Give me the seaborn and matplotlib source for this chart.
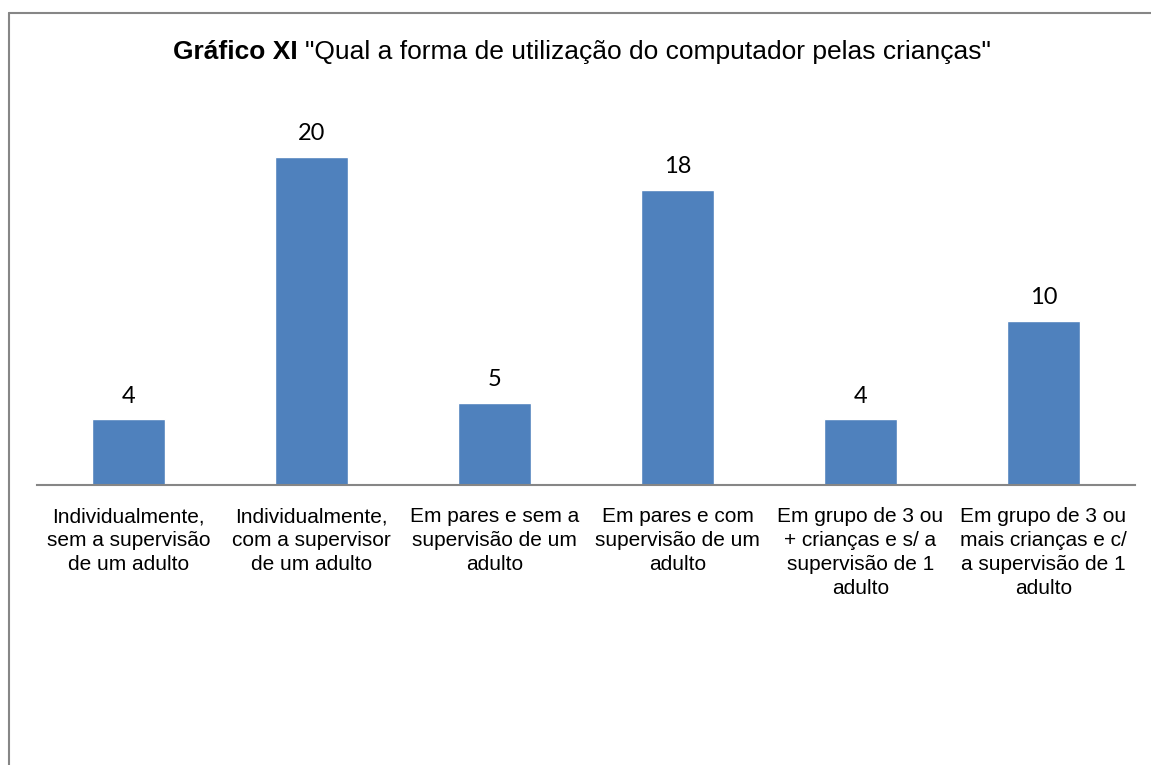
import pandas as pd
import matplotlib
matplotlib.use('Agg')
import matplotlib.pyplot as plt
import seaborn as sns

sns.set_theme(style='white')
plt.rcParams['font.family'] = ['Liberation Sans', 'DejaVu Sans']
plt.rcParams['text.color'] = 'black'

# data
categorias = ['Individualmente,\nsem a supervisão\nde um adulto',
              'Individualmente,\ncom a supervisor\nde um adulto',
              'Em pares e sem a\nsupervisão de um\nadulto',
              'Em pares e com\nsupervisão de um\nadulto',
              'Em grupo de 3 ou\n+ crianças e s/ a\nsupervisão de 1\nadulto',
              'Em grupo de 3 ou\nmais crianças e c/\na supervisão de 1\nadulto']
valores = [4, 20, 5, 18, 4, 10]

df = pd.DataFrame({'cat': categorias, 'val': valores})

fig = plt.figure(figsize=(11.51, 7.65), dpi=100)
W, H = 1151, 765
ax = fig.add_axes([37/W, (H-485)/H, (1135-37)/W, (485-124)/H])

sns.barplot(data=df, x='cat', y='val', color='#4F81BD', saturation=1,
            width=0.4, ax=ax)
ax.set_ylim(0, 22)
ax.set_xlim(-0.5, 5.5)
ax.set_xlabel('')
ax.set_ylabel('')
ax.set_yticks([])
for s in ['top', 'right', 'left']:
    ax.spines[s].set_visible(False)
ax.spines['bottom'].set_color('#868686')
ax.spines['bottom'].set_linewidth(1.5)
ax.tick_params(axis='x', length=0, pad=16)
for lbl in ax.get_xticklabels():
    lbl.set_fontsize(15)
    lbl.set_linespacing(1.32)
    lbl.set_color('black')

for i, v in enumerate(valores):
    ax.annotate(str(v), (i, v), xytext=(0, 9), textcoords='offset points',
                ha='center', va='bottom', fontsize=17, family='Lato', color='black')

# title: bold part + regular part
t1 = fig.text(173/W, 1 - 52/H, 'Gráfico XI ', fontsize=19, fontweight='bold',
              ha='left', va='center')
fig.canvas.draw()
bb = t1.get_window_extent()
fig.text(bb.x1/W, 1 - 52/H, '"Qual a forma de utilização do computador pelas crianças"',
         fontsize=19, ha='left', va='center')

# outer border (left and top only visible)
fig.add_artist(plt.Line2D([8.5/W, 8.5/W], [0, 1 - 13/H], transform=fig.transFigure,
                          color='#868686', lw=1.5))
fig.add_artist(plt.Line2D([8.5/W, 1], [1 - 13/H, 1 - 13/H], transform=fig.transFigure,
                          color='#868686', lw=1.5))

fig.savefig('out.png', dpi=100, facecolor='white')
